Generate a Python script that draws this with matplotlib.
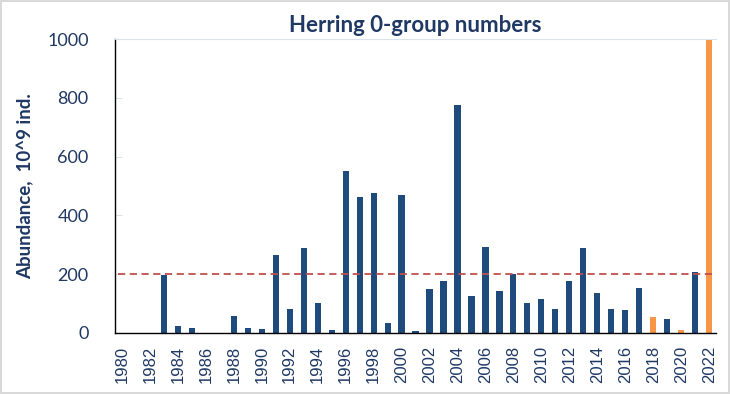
import matplotlib
matplotlib.use('Agg')
import matplotlib.pyplot as plt
import numpy as np

# data
years = list(range(1980, 2023))
abundance = [0, 0, 0, 197, 25, 17, 0, 0, 58, 17, 14, 265, 82, 290, 102, 10,
             550, 463, 476, 34, 469, 7, 150, 177, 775, 126, 293, 143, 200, 102,
             116, 82, 177, 289, 136, 82, 78, 153, 54, 48, 10, 207, 1000]
highlight_years = [2018, 2020, 2022]
reference_level = 200
tick_years = list(range(1980, 2023, 2))

navy = '#1F4A7C'
orange = '#F79646'
text_col = '#1F3864'

plt.rcParams.update({'font.family': ['Lato', 'DejaVu Sans']})

fig = plt.figure(figsize=(7.3, 3.94), dpi=100)
fig.patch.set_edgecolor('#D9D9D9')
fig.patch.set_linewidth(1.5)
ax = fig.add_axes([0.1575, 0.155, 0.8235, 0.746])

colors = [orange if y in highlight_years else navy for y in years]
ax.bar(years, abundance, width=0.44, color=colors, zorder=2)
ax.axhline(reference_level, color='#C0504D', linestyle=(0, (4, 2.5)), linewidth=1.3, zorder=3,
           xmin=0.005, xmax=0.995)

ax.set_xlim(1979.5, 2022.5)
ax.set_ylim(0, 1000)
ax.set_yticks(range(0, 1001, 200))
ax.set_xticks(tick_years)
ax.set_xticklabels([str(y) for y in tick_years], rotation=90, fontsize=12, color=text_col,
                   family=['Liberation Sans', 'DejaVu Sans'])
ax.tick_params(axis='y', labelsize=13, labelcolor=text_col, direction='in', length=5,
               color='#D9E1EA', pad=19)
ax.tick_params(axis='x', length=0, pad=9)

ax.spines['right'].set_visible(False)
ax.spines['top'].set_color('#D9E1EA')
ax.spines['left'].set_color('black')
ax.spines['bottom'].set_color('black')
ax.spines['left'].set_linewidth(1.0)
ax.spines['bottom'].set_linewidth(1.0)

ax.set_ylabel('Abundance,  10^9 ind.', fontsize=13.5, fontweight='bold', color=text_col, labelpad=9)
ax.set_title('Herring 0-group numbers', fontsize=16, fontweight='bold', color=text_col, pad=5)

fig.savefig('out.png', dpi=100)
